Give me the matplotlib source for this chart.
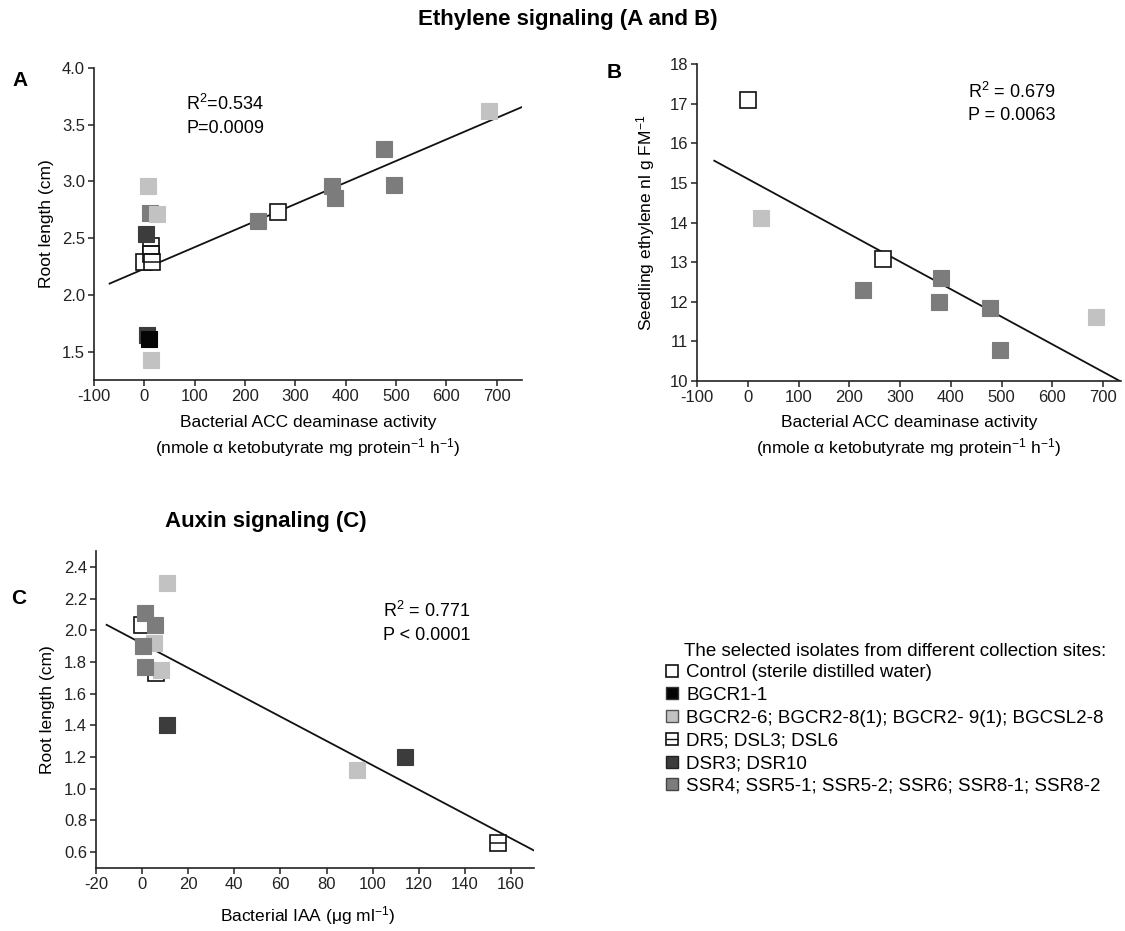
import matplotlib
matplotlib.use("Agg")
import matplotlib.pyplot as plt
from matplotlib.lines import Line2D
import numpy as np

plt.rcParams['font.family'] = ['Liberation Sans', 'DejaVu Sans']
plt.rcParams['mathtext.default'] = 'regular'
plt.rcParams['axes.unicode_minus'] = False

# ---------------- data ----------------
# Panel A: ACC deaminase activity vs root length
a_ctrl_x = [0, 265];            a_ctrl_y = [2.29, 2.73]
a_bg1_x = [10];                 a_bg1_y = [1.61]
a_bg2_x = [7, 25, 14, 684];     a_bg2_y = [2.96, 2.71, 1.43, 3.62]
a_dr_x = [13, 13, 15];          a_dr_y = [2.43, 2.36, 2.29]
a_dsr_x = [5, 3];               a_dsr_y = [1.65, 2.54]
a_ssr_x = [11, 225, 373, 378, 475, 495]
a_ssr_y = [2.72, 2.65, 2.96, 2.85, 3.285, 2.965]
a_fit = dict(slope=0.0019, intercept=2.231, x0=-69, x1=750)

# Panel B: ACC deaminase activity vs seedling ethylene
b_ctrl_x = [0, 266];            b_ctrl_y = [17.1, 13.08]
b_bg2_x = [27, 686];            b_bg2_y = [14.11, 11.62]
b_ssr_x = [227, 376, 380, 478, 497]
b_ssr_y = [12.30, 11.99, 12.59, 11.85, 10.78]
b_fit = dict(slope=-0.00696, intercept=15.10, x0=-66, x1=733)

# Panel C: IAA vs root length
c_ctrl_x = [0];                 c_ctrl_y = [2.03]
c_dr_x = [6, 154.4];            c_dr_y = [1.73, 0.66]
c_bg2_x = [11, 5.3, 8, 93.4];   c_bg2_y = [2.30, 1.92, 1.75, 1.12]
c_dsr_x = [10.6, 114];          c_dsr_y = [1.40, 1.20]
c_ssr_x = [1.2, 5.6, 0.2, 1.4]; c_ssr_y = [2.11, 2.03, 1.90, 1.77]
c_fit = dict(slope=-0.00768, intercept=1.916, x0=-15.4, x1=170)

legend_labels = ["Control (sterile distilled water)", "BGCR1-1",
                 "BGCR2-6; BGCR2-8(1); BGCR2- 9(1); BGCSL2-8",
                 "DR5; DSL3; DSL6", "DSR3; DSR10",
                 "SSR4; SSR5-1; SSR5-2; SSR6; SSR8-1; SSR8-2"]

# ---------------- styles ----------------
C_BLACK = '#050505'
C_LIGHT = '#c2c2c2'
C_DARK = '#3c3c3c'
C_MID = '#7c7c7c'
MS = 11

W, H = 1125, 931
fig = plt.figure(figsize=(W / 100, H / 100), dpi=100)


def px_axes(x0, y0, x1, y1):
    return fig.add_axes([x0 / W, 1 - y1 / H, (x1 - x0) / W, (y1 - y0) / H])


def style(ax):
    for s in ['top', 'right']:
        ax.spines[s].set_visible(False)
    for s in ['left', 'bottom']:
        ax.spines[s].set_linewidth(1.2)
        ax.spines[s].set_color('#222222')
    ax.tick_params(direction='out', length=4.5, width=1.1, labelsize=12,
                   colors='#222222', pad=2)


def filled(ax, x, y, c, ms=MS, z=3):
    ax.plot(x, y, 's', ms=ms, mfc=c, mec=c, mew=0.8, ls='none', zorder=z)


def opened(ax, x, y, ms=MS, z=3):
    ax.plot(x, y, 's', ms=ms, mfc='white', mec='#111111', mew=1.2, ls='none', zorder=z)


def striped(ax, x, y, ms=MS, z=3):
    opened(ax, x, y, ms, z)
    ax.plot(x, y, '_', ms=ms, mec='#111111', mew=1.1, ls='none', zorder=z)


def fit_line(ax, f):
    xs = np.array([f['x0'], f['x1']])
    ax.plot(xs, f['slope'] * xs + f['intercept'], color='#111111', lw=1.3, zorder=2)


# ---------------- Panel A ----------------
axA = px_axes(94, 68, 522, 380)
style(axA)
fit_line(axA, a_fit)
opened(axA, a_ctrl_x, a_ctrl_y)
striped(axA, a_dr_x, a_dr_y)
filled(axA, a_dsr_x, a_dsr_y, C_DARK)
filled(axA, a_bg1_x, a_bg1_y, C_BLACK)
filled(axA, a_ssr_x, a_ssr_y, C_MID)
filled(axA, a_bg2_x, a_bg2_y, C_LIGHT)
axA.set_xlim(-100, 750)
axA.set_ylim(1.25, 4.0)
axA.set_xticks(np.arange(-100, 701, 100))
axA.set_yticks(np.arange(1.5, 4.01, 0.5))
axA.yaxis.set_major_formatter(matplotlib.ticker.FormatStrFormatter('%.1f'))
axA.set_ylabel('Root length (cm)', fontsize=12.5, labelpad=6)
axA.text(0.215, 0.918, 'R$^2$=0.534\nP=0.0009', transform=axA.transAxes,
         fontsize=13, va='top', ha='left', linespacing=1.45)

# ---------------- Panel B ----------------
axB = px_axes(697, 64, 1121, 381)
style(axB)
fit_line(axB, b_fit)
opened(axB, b_ctrl_x, b_ctrl_y)
filled(axB, b_ssr_x, b_ssr_y, C_MID)
filled(axB, b_bg2_x, b_bg2_y, C_LIGHT)
axB.set_xlim(-100, 735)
axB.set_ylim(10, 18)
axB.set_xticks(np.arange(-100, 701, 100))
axB.set_yticks(np.arange(10, 18.1, 1))
axB.set_ylabel('Seedling ethylene nl g FM$^{-1}$', fontsize=12.5, labelpad=9)
axB.text(0.64, 0.945, 'R$^2$ = 0.679\nP = 0.0063', transform=axB.transAxes,
         fontsize=13, va='top', ha='left', linespacing=1.45)

# ---------------- Panel C ----------------
axC = px_axes(96, 551, 534, 868)
style(axC)
fit_line(axC, c_fit)
opened(axC, c_ctrl_x, c_ctrl_y)
striped(axC, c_dr_x, c_dr_y)
filled(axC, c_bg2_x, c_bg2_y, C_LIGHT)
filled(axC, c_ssr_x, c_ssr_y, C_MID)
filled(axC, c_dsr_x, c_dsr_y, C_DARK)
axC.set_xlim(-20, 170)
axC.set_ylim(0.5, 2.5)
axC.set_xticks(np.arange(-20, 161, 20))
axC.set_yticks(np.arange(0.6, 2.41, 0.2))
axC.yaxis.set_major_formatter(matplotlib.ticker.FormatStrFormatter('%.1f'))
axC.set_ylabel('Root length (cm)', fontsize=12.5, labelpad=6)
axC.text(0.655, 0.842, 'R$^2$ = 0.771\nP < 0.0001', transform=axC.transAxes,
         fontsize=13, va='top', ha='left', linespacing=1.45)

# ---------------- x labels ----------------
def ftext(x, y, s, **kw):
    fig.text(x / W, 1 - y / H, s, **kw)

xl1 = 'Bacterial ACC deaminase activity'
xl2 = '(nmole \u03b1 ketobutyrate mg protein$^{-1}$ h$^{-1}$)'
ftext(308, 422, xl1, ha='center', va='center', fontsize=12.5)
ftext(308, 448, xl2, ha='center', va='center', fontsize=12.5)
ftext(909, 422, xl1, ha='center', va='center', fontsize=12.5)
ftext(909, 448, xl2, ha='center', va='center', fontsize=12.5)
ftext(308, 916, 'Bacterial IAA (\u03bcg ml$^{-1}$)', ha='center', va='center', fontsize=12.5)

# ---------------- titles & panel letters ----------------
ftext(568, 20, 'Ethylene signaling (A and B)', ha='center', va='center',
      fontsize=16, fontweight='bold')
ftext(266, 521, 'Auxin signaling (C)', ha='center', va='center',
      fontsize=16, fontweight='bold')
ftext(20, 80, 'A', ha='center', va='center', fontsize=15, fontweight='bold')
ftext(614, 72, 'B', ha='center', va='center', fontsize=15, fontweight='bold')
ftext(19, 598, 'C', ha='center', va='center', fontsize=15, fontweight='bold')

# ---------------- legend ----------------
LMS = 9
h_ctrl = Line2D([], [], marker='s', ms=LMS, mfc='white', mec='#111111', mew=1.2, ls='none')
h_bg1 = Line2D([], [], marker='s', ms=LMS, mfc=C_BLACK, mec='#333333', mew=1.0, ls='none')
h_bg2 = Line2D([], [], marker='s', ms=LMS, mfc=C_LIGHT, mec='#555555', mew=1.0, ls='none')
h_dr_a = Line2D([], [], marker='s', ms=LMS, mfc='white', mec='#111111', mew=1.2, ls='none')
h_dr_b = Line2D([], [], marker='_', ms=LMS, mec='#111111', mew=1.0, ls='none')
h_dsr = Line2D([], [], marker='s', ms=LMS, mfc=C_DARK, mec='#222222', mew=1.0, ls='none')
h_ssr = Line2D([], [], marker='s', ms=LMS, mfc=C_MID, mec='#444444', mew=1.0, ls='none')

ftext(684, 652, 'The selected isolates from different collection sites:',
      ha='left', va='center', fontsize=13.5)
fig.legend([h_ctrl, h_bg1, h_bg2, (h_dr_a, h_dr_b), h_dsr, h_ssr], legend_labels,
           loc='upper left', bbox_to_anchor=(664 / W, 1 - 664 / H),
           frameon=False, fontsize=13.5, handlelength=0.8, handletextpad=0.4,
           labelspacing=0.3, borderpad=0, borderaxespad=0)

fig.savefig('out.png', dpi=100)
